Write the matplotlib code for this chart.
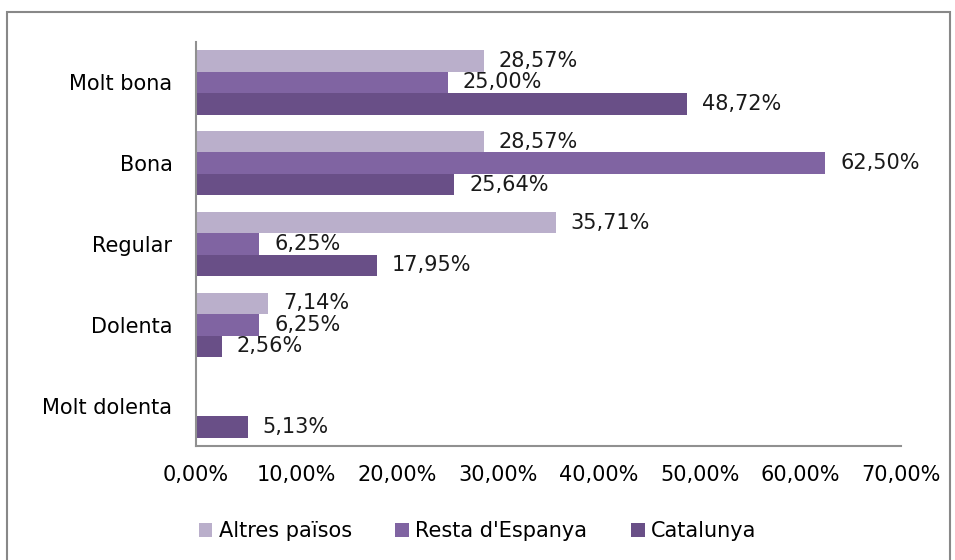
import numpy as np
import matplotlib.pyplot as plt
from matplotlib.patches import Rectangle

categories = ["Molt bona", "Bona", "Regular", "Dolenta", "Molt dolenta"]
series = ["Altres països", "Resta d'Espanya", "Catalunya"]
altres = [28.57, 28.57, 35.71, 7.14, 0]
resta = [25.00, 62.50, 6.25, 6.25, 0]
catalunya = [48.72, 25.64, 17.95, 2.56, 5.13]
colors = ["#BAAFCB", "#8064A2", "#694F87"]

plt.rcParams['font.family'] = ['DejaVu Sans']

fig = plt.figure(figsize=(9.55, 5.6), dpi=100)
ax = fig.add_axes([196/955, 1 - 446/560, (901 - 196)/955, (446 - 42)/560])

fs = 15
y = np.arange(len(categories))
h = 0.265
valores = [altres, resta, catalunya]
for k, (nom, vals, col) in enumerate(zip(series, valores, colors)):
    pos = y + (k - 1) * h
    ax.barh(pos, vals, height=h, color=col, label=nom, edgecolor='none')
    for p, v in zip(pos, vals):
        if v > 0:
            ax.text(v + 1.5, p, f"{v:.2f}%".replace(".", ","), va='center',
                    ha='left', fontsize=fs, color='#1a1a1a')

ax.set_xlim(0, 70)
ax.set_ylim(len(categories) - 0.5, -0.5)
ax.set_yticks(y)
ax.set_yticklabels(categories, fontsize=fs)
ax.set_xticks(np.arange(0, 71, 10))
ax.set_xticklabels([f"{v},00%" for v in range(0, 71, 10)], fontsize=fs)
ax.tick_params(axis='y', length=0, pad=17)
ax.tick_params(axis='x', length=0, pad=14)
for s in ['top', 'right']:
    ax.spines[s].set_visible(False)
for s in ['left', 'bottom']:
    ax.spines[s].set_color('#909090')
    ax.spines[s].set_linewidth(1.5)

fig.legend(loc='lower center', bbox_to_anchor=(0.5, 0.0), ncol=3, frameon=False,
           fontsize=fs, handlelength=0.65, handleheight=0.65, handletextpad=0.3,
           columnspacing=2.1)

fig.add_artist(Rectangle((7/955, -0.01), 943/955, 1 - 12/560 + 0.01,
                         transform=fig.transFigure, fill=False,
                         edgecolor='#888888', linewidth=1.5))

fig.savefig("out.png", dpi=100)
